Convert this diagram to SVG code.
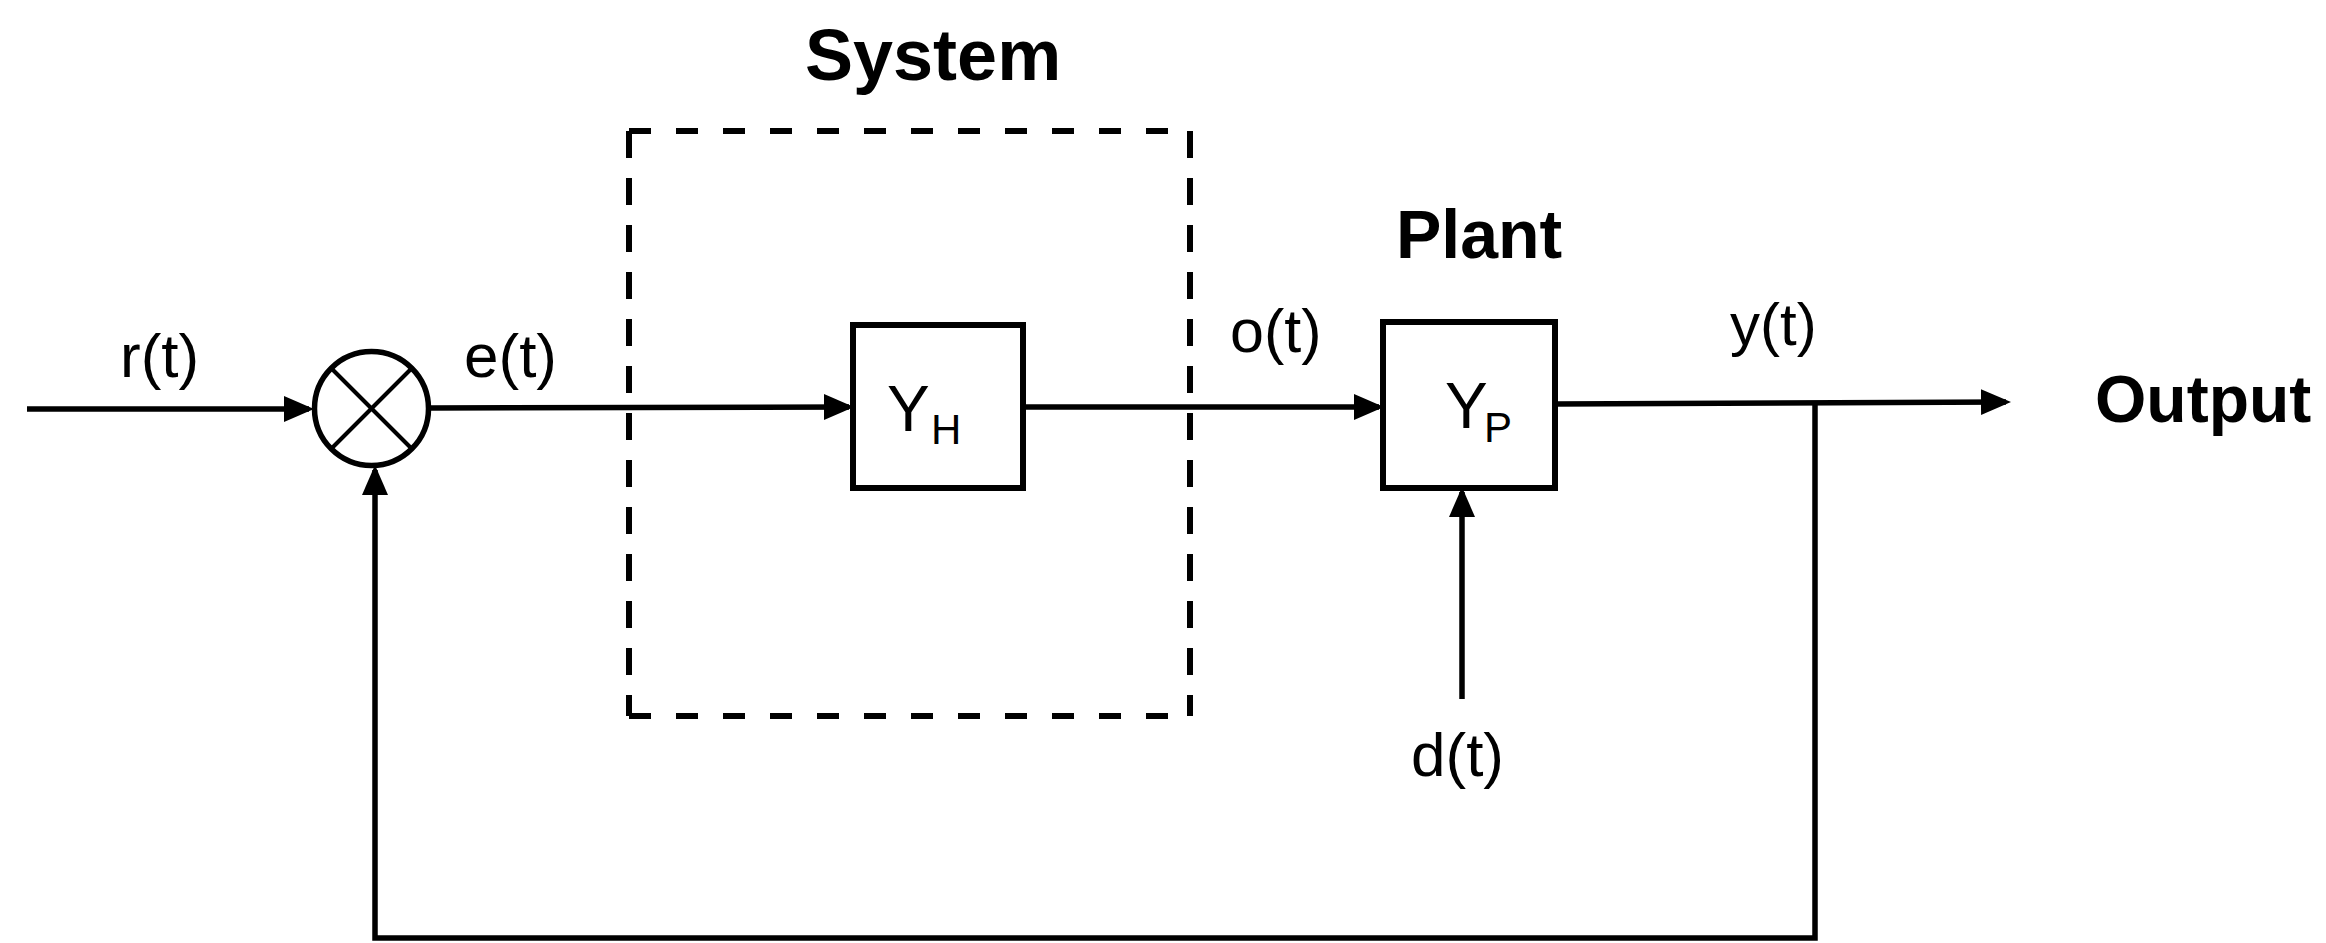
<svg xmlns="http://www.w3.org/2000/svg" width="2326" height="943" viewBox="0 0 2326 943">
  <style>
    .ln { fill: none; stroke: #000; stroke-width: 5.5; }
    .box { fill: none; stroke: #000; stroke-width: 6; }
    .dash { fill: none; stroke: #000; stroke-width: 6; }
    .lbl { font-family: "Liberation Sans", Arial, sans-serif; fill: #000; }
    .bold { font-weight: bold; }
  </style>
  <defs>
    <marker id="arr" markerUnits="userSpaceOnUse" markerWidth="32" markerHeight="28" refX="25" refY="13" orient="auto">
      <path d="M0,0 L30,13 L0,26 z" fill="#000"/>
    </marker>
  </defs>
  <rect width="2326" height="943" fill="#fff"/>

  <g id="system-boundary">
    <line class="dash" x1="629" y1="131" x2="1190" y2="131" stroke-dasharray="22 25"/>
    <line class="dash" x1="629" y1="716" x2="1190" y2="716" stroke-dasharray="22 25"/>
    <line class="dash" x1="629" y1="131" x2="629" y2="716" stroke-dasharray="27 20"/>
    <line class="dash" x1="1190" y1="131" x2="1190" y2="716" stroke-dasharray="27 20"/>
    <text class="lbl bold" x="805" y="80" font-size="72">System</text>
  </g>

  <g id="summing-junction">
    <circle class="ln" cx="371.5" cy="408.5" r="57"/>
    <line x1="331" y1="368" x2="412" y2="449" stroke="#000" stroke-width="4"/>
    <line x1="412" y1="368" x2="331" y2="449" stroke="#000" stroke-width="4"/>
  </g>

  <g id="node-yh">
    <rect class="box" x="853" y="325" width="170" height="163"/>
    <text class="lbl" x="887" y="431" font-size="64">Y</text>
    <text class="lbl" x="931" y="444" font-size="42">H</text>
  </g>

  <g id="node-yp">
    <rect class="box" x="1383" y="322" width="172" height="166"/>
    <text class="lbl" x="1445" y="428" font-size="64">Y</text>
    <text class="lbl" x="1484" y="442" font-size="42">P</text>
    <text class="lbl bold" x="1396" y="258" font-size="68">Plant</text>
  </g>

  <g id="connectors">
    <line class="ln" x1="27" y1="409" x2="309" y2="409" marker-end="url(#arr)"/>
    <line class="ln" x1="429" y1="408" x2="849" y2="407" marker-end="url(#arr)"/>
    <line class="ln" x1="1023" y1="407" x2="1379" y2="407" marker-end="url(#arr)"/>
    <line class="ln" x1="1555" y1="404" x2="2006" y2="402" marker-end="url(#arr)"/>
    <line class="ln" x1="1462" y1="699" x2="1462" y2="492" marker-end="url(#arr)"/>
    <polyline class="ln" points="1815,403 1815,938 375,938 375,470" marker-end="url(#arr)"/>
  </g>

  <g id="labels">
    <text class="lbl" x="120" y="377" font-size="62">r(t)</text>
    <text class="lbl" x="464" y="377" font-size="62">e(t)</text>
    <text class="lbl" x="1230" y="352" font-size="61">o(t)</text>
    <text class="lbl" x="1730" y="345" font-size="60">y(t)</text>
    <text class="lbl" x="1411" y="776" font-size="62">d(t)</text>
    <text class="lbl bold" x="2095" y="422" font-size="66">Output</text>
  </g>
</svg>
